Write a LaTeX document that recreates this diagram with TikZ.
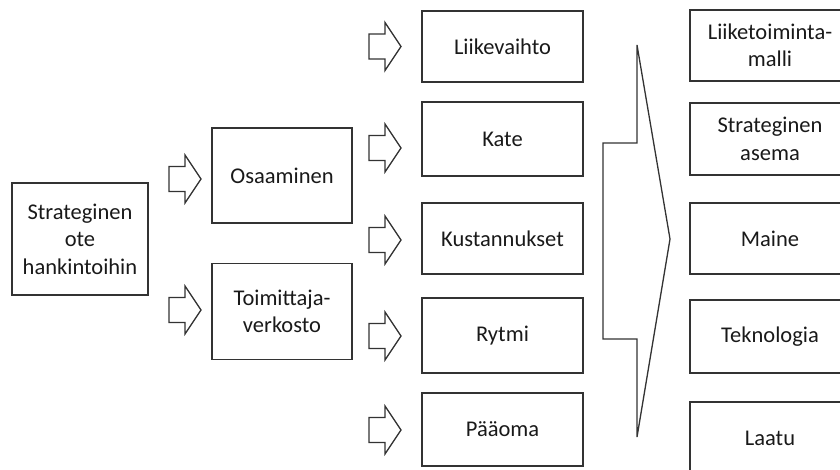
\documentclass[tikz,border=0pt]{standalone}
\usepackage{fontspec}
\setmainfont{Carlito}
\begin{document}
\begin{tikzpicture}[x=1pt,y=-1pt,
  box/.style={draw=black!80,line width=1.5pt,rectangle,align=center,inner sep=0pt,
    font=\fontsize{22.5}{27.5}\selectfont,text=black!90},
  flow/.style={draw=black!80,line width=1.3pt,line join=miter}]
\useasboundingbox (0,0) rectangle (840,470);
\begin{scope}
\clip (0,0) rectangle (840,470);
% first column
\node[box,minimum width=136pt,minimum height=112pt] (s) at (80,239) {Strateginen\\ote\\hankintoihin};
% second column
\node[box,minimum width=140pt,minimum height=95pt] (osa) at (282,175.5) {Osaaminen};
\node[box,minimum width=140pt,minimum height=96pt] (toim) at (282,311.5) {Toimittaja-\\verkosto};
% third column
\node[box,minimum width=161pt,minimum height=71pt] (liike) at (502.5,46.5) {Liikevaihto};
\node[box,minimum width=161pt,minimum height=74pt] (kate) at (502.5,139) {Kate};
\node[box,minimum width=161pt,minimum height=71pt] (kust) at (502.5,238.5) {Kustannukset};
\node[box,minimum width=161pt,minimum height=75pt] (rytmi) at (502.5,335.5) {Rytmi};
\node[box,minimum width=161pt,minimum height=73pt] (paa) at (502.5,429.5) {Pääoma};
% fourth column
\node[box,minimum width=160pt,minimum height=71pt] (r1) at (770,45.5) {Liiketoiminta-\\malli};
\node[box,minimum width=160pt,minimum height=72pt] (r2) at (770,139) {Strateginen\\asema};
\node[box,minimum width=160pt,minimum height=71pt] (r3) at (770,238.5) {Maine};
\node[box,minimum width=160pt,minimum height=73pt] (r4) at (770,336.5) {Teknologia};
\node[box,minimum width=160pt,minimum height=73pt] (r5) at (770,438.5) {Laatu};
% small block arrows
\foreach \cx/\cy in {185/179, 185/310, 385/46.5, 385/148, 385/240, 385/336, 385/430}{
  \draw[flow] (\cx-16,\cy-12.5) -- (\cx,\cy-12.5) -- (\cx,\cy-24) -- (\cx+16,\cy)
    -- (\cx,\cy+24) -- (\cx,\cy+12.5) -- (\cx-16,\cy+12.5) -- cycle;
}
% large block arrow
\coordinate (tip) at (670,239);
\draw[flow] (603,143) -- (637,143) -- (637,45) -- (tip) -- (637,437) -- (637,339) -- (603,339) -- cycle;
\end{scope}
\end{tikzpicture}
\end{document}
